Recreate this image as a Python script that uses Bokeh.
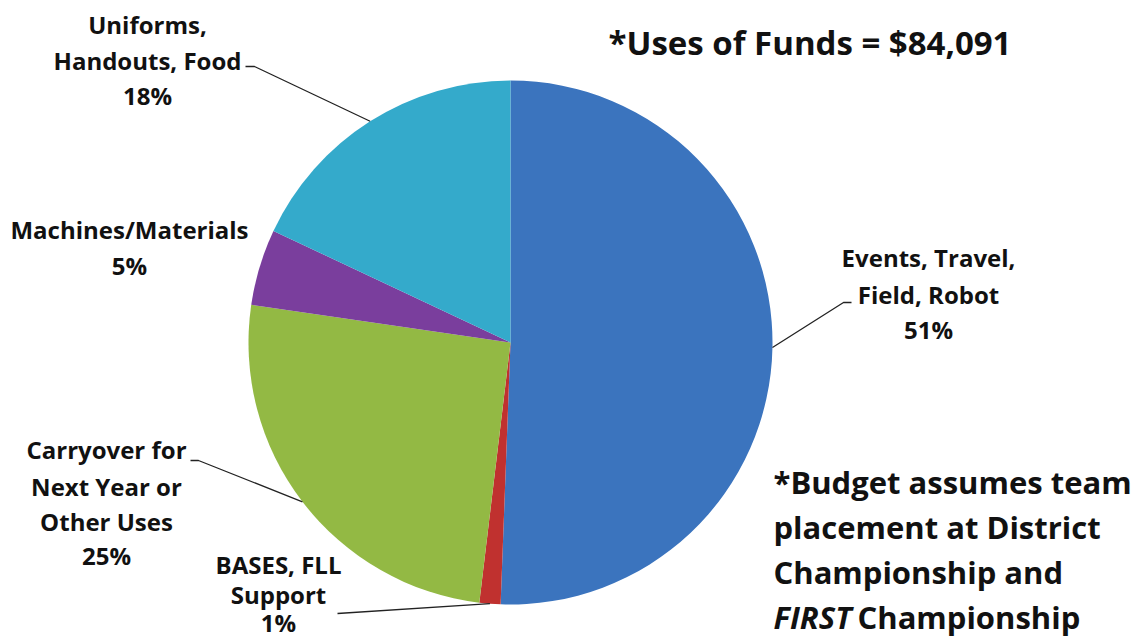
import math
from bokeh.plotting import figure
from bokeh.models import Range1d, ColumnDataSource
from bokeh.core.properties import value
from bokeh.embed import file_html
from bokeh.resources import INLINE

# ---- data ----
categories = ["Events, Travel, Field, Robot", "BASES, FLL Support",
              "Carryover for Next Year or Other Uses", "Machines/Materials",
              "Uniforms, Handouts, Food"]
shares = [50.6, 1.3, 25.4, 4.7, 18.0]          # percent of total uses
pct_labels = ["51%", "1%", "25%", "5%", "18%"]
colors = ["#3B74BE", "#C0312F", "#93B944", "#7A3E9D", "#34AACB"]
total_uses = "$84,091"

W, H = 1147, 641
def Y(py):
    return H - py

CX, CY, R = 510, Y(342), 262

total = sum(shares)
starts, ends, mids = [], [], []
c = 0.0
for s in shares:
    a0 = math.pi / 2 - 2 * math.pi * c / total
    c += s
    a1 = math.pi / 2 - 2 * math.pi * c / total
    starts.append(a0)
    ends.append(a1)
    mids.append((a0 + a1) / 2)

p = figure(width=W, height=H, output_backend="svg", toolbar_location=None,
           x_range=Range1d(0, W), y_range=Range1d(0, H), min_border=0,
           outline_line_color=None, background_fill_color="white",
           border_fill_color="white")
p.axis.visible = False
p.grid.visible = False

src = ColumnDataSource(dict(cat=categories, start=starts, end=ends, color=colors))
p.wedge(x=CX, y=CY, radius=R, start_angle="start", end_angle="end",
        direction="clock", fill_color="color", line_color=None, source=src)

FONT = value("Open Sans")

def txt(x, py, s, size, align="center", style="bold"):
    yb = py - 0.38 * size
    p.text(x=[x], y=[Y(yb)], text=[s], text_font=FONT, text_font_size=f"{size}px",
           text_font_style=style, text_align=align, text_baseline="alphabetic",
           text_color="#111111")

def anchor(i):
    a = mids[i]
    return CX + R * math.cos(a), CY + R * math.sin(a)

LS = 24
LC = "#222222"
# Uniforms label
txt(147, 33, "Uniforms,", LS)
txt(147, 69, "Handouts, Food", LS)
txt(147, 104, pct_labels[4], LS)
ax, ay = anchor(4)
p.line([245, 254, ax], [Y(66), Y(66), ay], line_color=LC, line_width=1.3)

# Machines label
txt(129, 238, "Machines/Materials", LS)
txt(129, 274, pct_labels[3], LS)

# Events label
txt(928, 266, "Events, Travel,", LS)
txt(928, 303, "Field, Robot", LS)
txt(928, 338, pct_labels[0], LS)
ax, ay = anchor(0)
p.line([ax, 843, 851], [ay, Y(302), Y(302)], line_color=LC, line_width=1.3)

# Carryover label
txt(106, 458, "Carryover for", LS)
txt(106, 495, "Next Year or", LS)
txt(106, 530, "Other Uses", LS)
txt(106, 564, pct_labels[2], LS)
ax, ay = anchor(2)
p.line([190, 198, ax], [Y(460), Y(460), ay], line_color=LC, line_width=1.3)

# BASES label
txt(278, 573, "BASES, FLL", LS)
txt(278, 603, "Support", LS)
txt(278, 631, pct_labels[1], LS)
ax, ay = anchor(1)
p.line([337, ax], [Y(613), ay], line_color=LC, line_width=1.3)

# Title and note
txt(608, 55, "*Uses of Funds = " + total_uses, 33, align="left")
NS = 31
txt(773, 493, "*Budget assumes team", NS, align="left")
txt(773, 538, "placement at District", NS, align="left")
txt(773, 583, "Championship and", NS, align="left")
txt(773, 628, "FIRST", NS, align="left", style="bold italic")
txt(857, 628, "Championship", NS, align="left")

open("out.html", "w").write(file_html(p, INLINE))
